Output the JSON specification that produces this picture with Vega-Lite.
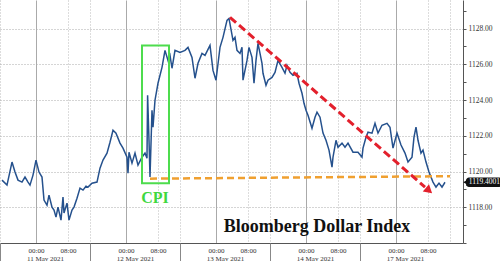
{
  "$schema": "https://vega.github.io/schema/vega-lite/v6.json",
  "width": 463,
  "height": 243,
  "autosize": {"type": "none"},
  "padding": {"left": 0, "top": 0, "right": 37, "bottom": 18},
  "background": "white",
  "config": {"view": {"stroke": null}},
  "datasets": {
    "one": [{}],
    "dxy": [
      {"t": -8.5, "v": 1119.52}, {"t": -7.25, "v": 1119.24}, {"t": -6, "v": 1120.53}, {"t": -5.25, "v": 1119.97},
      {"t": -4.5, "v": 1119.52}, {"t": -3.5, "v": 1119.41}, {"t": -2.75, "v": 1119.69}, {"t": -2, "v": 1119.41},
      {"t": -1.5, "v": 1119.24}, {"t": -0.75, "v": 1119.8}, {"t": 0, "v": 1120.64}, {"t": 0.75, "v": 1119.97},
      {"t": 1.5, "v": 1119.69}, {"t": 2, "v": 1118.4}, {"t": 2.75, "v": 1118.12}, {"t": 3.25, "v": 1118.68},
      {"t": 4, "v": 1118.01}, {"t": 4.5, "v": 1117.84}, {"t": 5, "v": 1117.45}, {"t": 5.5, "v": 1118.01},
      {"t": 6.25, "v": 1117.28}, {"t": 6.75, "v": 1118.57}, {"t": 7, "v": 1117.68}, {"t": 7.75, "v": 1118.23},
      {"t": 8.25, "v": 1117.28}, {"t": 9, "v": 1117.84}, {"t": 9.5, "v": 1118.01}, {"t": 10.25, "v": 1118.51},
      {"t": 11, "v": 1119.07}, {"t": 11.75, "v": 1118.96}, {"t": 12.5, "v": 1119.18}, {"t": 13, "v": 1119.13},
      {"t": 14, "v": 1119.35}, {"t": 15.25, "v": 1119.41}, {"t": 16, "v": 1120.19}, {"t": 16.75, "v": 1120.64},
      {"t": 17.75, "v": 1121.03}, {"t": 18.5, "v": 1121.64}, {"t": 19.25, "v": 1122.31}, {"t": 20, "v": 1122.15},
      {"t": 21, "v": 1121.59}, {"t": 21.75, "v": 1121.31}, {"t": 22.75, "v": 1120.8}, {"t": 23, "v": 1119.91},
      {"t": 23.25, "v": 1121.08}, {"t": 24, "v": 1120.47}, {"t": 24.75, "v": 1121.03}, {"t": 25.5, "v": 1120.36},
      {"t": 26.5, "v": 1120.8}, {"t": 27.25, "v": 1121.03}, {"t": 27.75, "v": 1120.75}, {"t": 27.9, "v": 1124.27},
      {"t": 28.25, "v": 1121.75}, {"t": 28.5, "v": 1119.69}, {"t": 29, "v": 1123.43}, {"t": 29.25, "v": 1122.48},
      {"t": 29.75, "v": 1123.99}, {"t": 30.5, "v": 1124.94}, {"t": 31.5, "v": 1125.83}, {"t": 32.25, "v": 1126.78},
      {"t": 33, "v": 1126.22}, {"t": 33.5, "v": 1126.5}, {"t": 34, "v": 1125.78}, {"t": 34.75, "v": 1126.78},
      {"t": 36, "v": 1126.67}, {"t": 37.25, "v": 1126.78}, {"t": 38, "v": 1126.95}, {"t": 39, "v": 1126.39},
      {"t": 39.75, "v": 1125.22}, {"t": 40.5, "v": 1126.06}, {"t": 41.5, "v": 1126.61}, {"t": 42.25, "v": 1126.5},
      {"t": 43.5, "v": 1127.06}, {"t": 44.25, "v": 1125.66}, {"t": 45, "v": 1125.11}, {"t": 46, "v": 1126.95},
      {"t": 46.75, "v": 1127.51}, {"t": 47.75, "v": 1128.46}, {"t": 48.25, "v": 1128.57}, {"t": 49.25, "v": 1127.34},
      {"t": 49.75, "v": 1127.51}, {"t": 50.25, "v": 1126.78}, {"t": 51, "v": 1126.61}, {"t": 51.5, "v": 1126.95},
      {"t": 51.75, "v": 1125.11}, {"t": 52.75, "v": 1126.22}, {"t": 53.25, "v": 1126.95}, {"t": 54, "v": 1126.39},
      {"t": 54.5, "v": 1124.94}, {"t": 55, "v": 1126.22}, {"t": 55.5, "v": 1127.17}, {"t": 56.5, "v": 1126.06},
      {"t": 56.75, "v": 1125.5}, {"t": 57.5, "v": 1124.83}, {"t": 58, "v": 1125.11}, {"t": 59, "v": 1125.27},
      {"t": 59.75, "v": 1125.55}, {"t": 60.5, "v": 1126.22}, {"t": 61.5, "v": 1125.83}, {"t": 62.25, "v": 1125.5},
      {"t": 62.75, "v": 1125.94}, {"t": 63.5, "v": 1125.55}, {"t": 64.25, "v": 1125.39}, {"t": 65.25, "v": 1125.5},
      {"t": 65.75, "v": 1124.94}, {"t": 66.5, "v": 1124.38}, {"t": 67, "v": 1123.82}, {"t": 67.5, "v": 1123.43},
      {"t": 68, "v": 1123.15}, {"t": 69, "v": 1122.42}, {"t": 69.75, "v": 1123.04}, {"t": 70.25, "v": 1123.32},
      {"t": 71, "v": 1123.04}, {"t": 71.75, "v": 1122.15}, {"t": 72.5, "v": 1121.75}, {"t": 73.25, "v": 1121.2},
      {"t": 74, "v": 1120.25}, {"t": 74.25, "v": 1120.8}, {"t": 75, "v": 1121.75}, {"t": 75.5, "v": 1121.36},
      {"t": 76.5, "v": 1121.59}, {"t": 77.25, "v": 1121.36}, {"t": 78, "v": 1121.59}, {"t": 79.25, "v": 1121.08},
      {"t": 80.5, "v": 1121.08}, {"t": 81.5, "v": 1120.8}, {"t": 81.75, "v": 1121.31}, {"t": 82.5, "v": 1121.92},
      {"t": 83, "v": 1122.2}, {"t": 84, "v": 1122.15}, {"t": 84.75, "v": 1122.7}, {"t": 85.5, "v": 1122.15},
      {"t": 86.5, "v": 1122.59}, {"t": 87.75, "v": 1122.7}, {"t": 88.5, "v": 1122.48}, {"t": 89.25, "v": 1121.31},
      {"t": 90.25, "v": 1122.15}, {"t": 91.25, "v": 1121.48}, {"t": 92.25, "v": 1121.03}, {"t": 93, "v": 1120.53},
      {"t": 94, "v": 1120.8}, {"t": 94.5, "v": 1121.92}, {"t": 95, "v": 1122.48}, {"t": 95.5, "v": 1121.75},
      {"t": 96.25, "v": 1121.03}, {"t": 96.75, "v": 1121.2}, {"t": 97.5, "v": 1120.53}, {"t": 98.25, "v": 1119.97},
      {"t": 99.25, "v": 1119.41}, {"t": 100, "v": 1119.13}, {"t": 100.75, "v": 1119.35}, {"t": 101.5, "v": 1119.13},
      {"t": 102.25, "v": 1119.4}
    ]
  },
  "resolve": {"axis": {"x": "independent", "y": "independent"}},
  "layer": [
    {
      "data": {"name": "dxy"},
      "mark": {"type": "line", "color": "#25518d", "strokeWidth": 1.5, "interpolate": "linear"},
      "encoding": {
        "x": {
          "field": "t", "type": "quantitative",
          "scale": {"domain": [-9, 106.75], "nice": false, "zero": false},
          "axis": {
            "orient": "bottom", "title": null, "values": [0, 8, 22.5, 30.5, 45, 53, 67.5, 75.5, 90, 98],
            "labelExpr": "datum.value % 22.5 == 0 ? '00:00' : '08:00'",
            "grid": false, "ticks": false, "domain": true, "domainColor": "#555",
            "labelFont": "Liberation Serif", "labelFontSize": 7, "labelColor": "#333",
            "labelPadding": 3, "labelFlush": false, "labelOverlap": false
          }
        },
        "y": {
          "field": "v", "type": "quantitative",
          "scale": {"domain": [1116, 1129.6], "nice": false, "zero": false},
          "axis": {
            "title": null, "orient": "right",
            "values": [1116, 1117, 1118, 1119, 1120, 1121, 1122, 1123, 1124, 1125, 1126, 1127, 1128, 1129],
            "labelExpr": "(datum.value % 2 == 0 && datum.value >= 1118) ? format(datum.value, '.2f') : ''",
            "grid": true,
            "gridDash": [1, 2], "gridColor": "#aaa",
            "gridOpacity": {"condition": {"test": "datum.value % 2 == 0 && datum.value >= 1118", "value": 1}, "value": 0},
            "tickSize": 3, "tickColor": "#555", "domainColor": "#555",
            "labelFont": "Liberation Serif", "labelFontSize": 7.5, "labelColor": "#333",
            "labelPadding": 2, "labelFlush": false, "labelOverlap": false
          }
        }
      }
    },
    {
      "data": {"name": "one"},
      "mark": {"type": "rule", "color": "#f0a030", "strokeWidth": 2.5, "strokeDash": [7, 4]},
      "encoding": {
        "x": {"datum": 28.5, "type": "quantitative", "axis": {
          "orient": "bottom", "values": [0, 22.5, 45, 67.5, 90], "grid": true, "gridColor": "#aaa", "gridWidth": 1,
          "labels": false, "ticks": false, "domain": false, "title": null}},
        "x2": {"datum": 103.5},
        "y": {"datum": 1119.6, "type": "quantitative", "axis": null},
        "y2": {"datum": 1119.74}
      }
    },
    {
      "data": {"name": "one"},
      "mark": {"type": "rect", "fill": null, "fillOpacity": 0, "stroke": "#4ddc4d", "strokeWidth": 2},
      "encoding": {
        "x": {"datum": 26.5, "type": "quantitative", "axis": {
          "orient": "bottom", "values": [-9, 8, 13.5, 30.5, 36, 53, 58.5, 75.5, 81, 98, 103.5], "grid": true,
          "gridColor": "#bbb", "gridDash": [1, 2], "gridWidth": 1,
          "labels": false, "ticks": false, "domain": false, "title": null}},
        "x2": {"datum": 33.25},
        "y": {"datum": 1127.06, "type": "quantitative", "axis": null},
        "y2": {"datum": 1119.35}
      }
    },
    {
      "data": {"name": "one"},
      "mark": {"type": "text", "font": "Liberation Serif", "fontWeight": "bold", "fontSize": 16, "color": "#3fd83f", "align": "center", "baseline": "middle"},
      "encoding": {
        "x": {"datum": 29.75, "type": "quantitative", "axis": {
          "orient": "bottom", "values": [-9, 13.5, 36, 58.5, 81], "grid": false, "labels": false, "ticks": true,
          "tickSize": 18, "tickColor": "#888", "domain": false, "title": null}},
        "y": {"datum": 1118.5, "type": "quantitative", "axis": null},
        "text": {"value": "CPI"}
      }
    },
    {
      "data": {"name": "one"},
      "mark": {"type": "rule", "color": "#e3202c", "strokeWidth": 3, "strokeDash": [8, 4]},
      "encoding": {
        "x": {"datum": 48.5, "type": "quantitative", "axis": {
          "orient": "bottom", "values": [2.25, 24.75, 47.25, 69.75, 92.25],
          "labelExpr": "['11 May 2021','12 May 2021','13 May 2021','14 May 2021','17 May 2021'][round((datum.value - 2.25) / 22.5)]",
          "grid": false, "ticks": false, "domain": false, "title": null,
          "labelFont": "Liberation Serif", "labelFontSize": 7, "labelColor": "#333",
          "labelPadding": 11, "labelFlush": false, "labelOverlap": false}},
        "x2": {"datum": 97.25},
        "y": {"datum": 1128.63, "type": "quantitative", "axis": null},
        "y2": {"datum": 1119.13}
      }
    },
    {
      "data": {"name": "one"},
      "mark": {"type": "point", "shape": "triangle-right", "filled": true, "color": "#e3202c", "size": 90, "angle": 41, "opacity": 1},
      "encoding": {
        "x": {"datum": 98.25, "type": "quantitative", "axis": null},
        "y": {"datum": 1118.93, "type": "quantitative", "axis": null}
      }
    },
    {
      "data": {"name": "one"},
      "mark": {"type": "text", "font": "Liberation Serif", "fontWeight": "bold", "fontSize": 18, "color": "#111", "align": "center", "baseline": "alphabetic"},
      "encoding": {
        "x": {"datum": 70.25, "type": "quantitative", "axis": null},
        "y": {"datum": 1116.6, "type": "quantitative", "axis": null},
        "text": {"value": "Bloomberg Dollar Index"}
      }
    },
    {
      "data": {"name": "one"},
      "mark": {"type": "rect", "color": "#111", "cornerRadius": 3},
      "encoding": {
        "x": {"datum": 107.5, "type": "quantitative", "axis": null},
        "x2": {"datum": 116.5},
        "y": {"datum": 1119.66, "type": "quantitative", "axis": null},
        "y2": {"datum": 1119.14}
      }
    },
    {
      "data": {"name": "one"},
      "mark": {"type": "point", "shape": "triangle-left", "filled": true, "color": "#111", "size": 30, "opacity": 1},
      "encoding": {
        "x": {"datum": 107.4, "type": "quantitative", "axis": null},
        "y": {"datum": 1119.4, "type": "quantitative", "axis": null}
      }
    },
    {
      "data": {"name": "one"},
      "mark": {"type": "text", "font": "Liberation Serif", "fontSize": 7.5, "color": "white", "align": "center", "baseline": "middle"},
      "encoding": {
        "x": {"datum": 112.1, "type": "quantitative", "axis": null},
        "y": {"datum": 1119.4, "type": "quantitative", "axis": null},
        "text": {"value": "1119.4001"}
      }
    }
  ]
}
